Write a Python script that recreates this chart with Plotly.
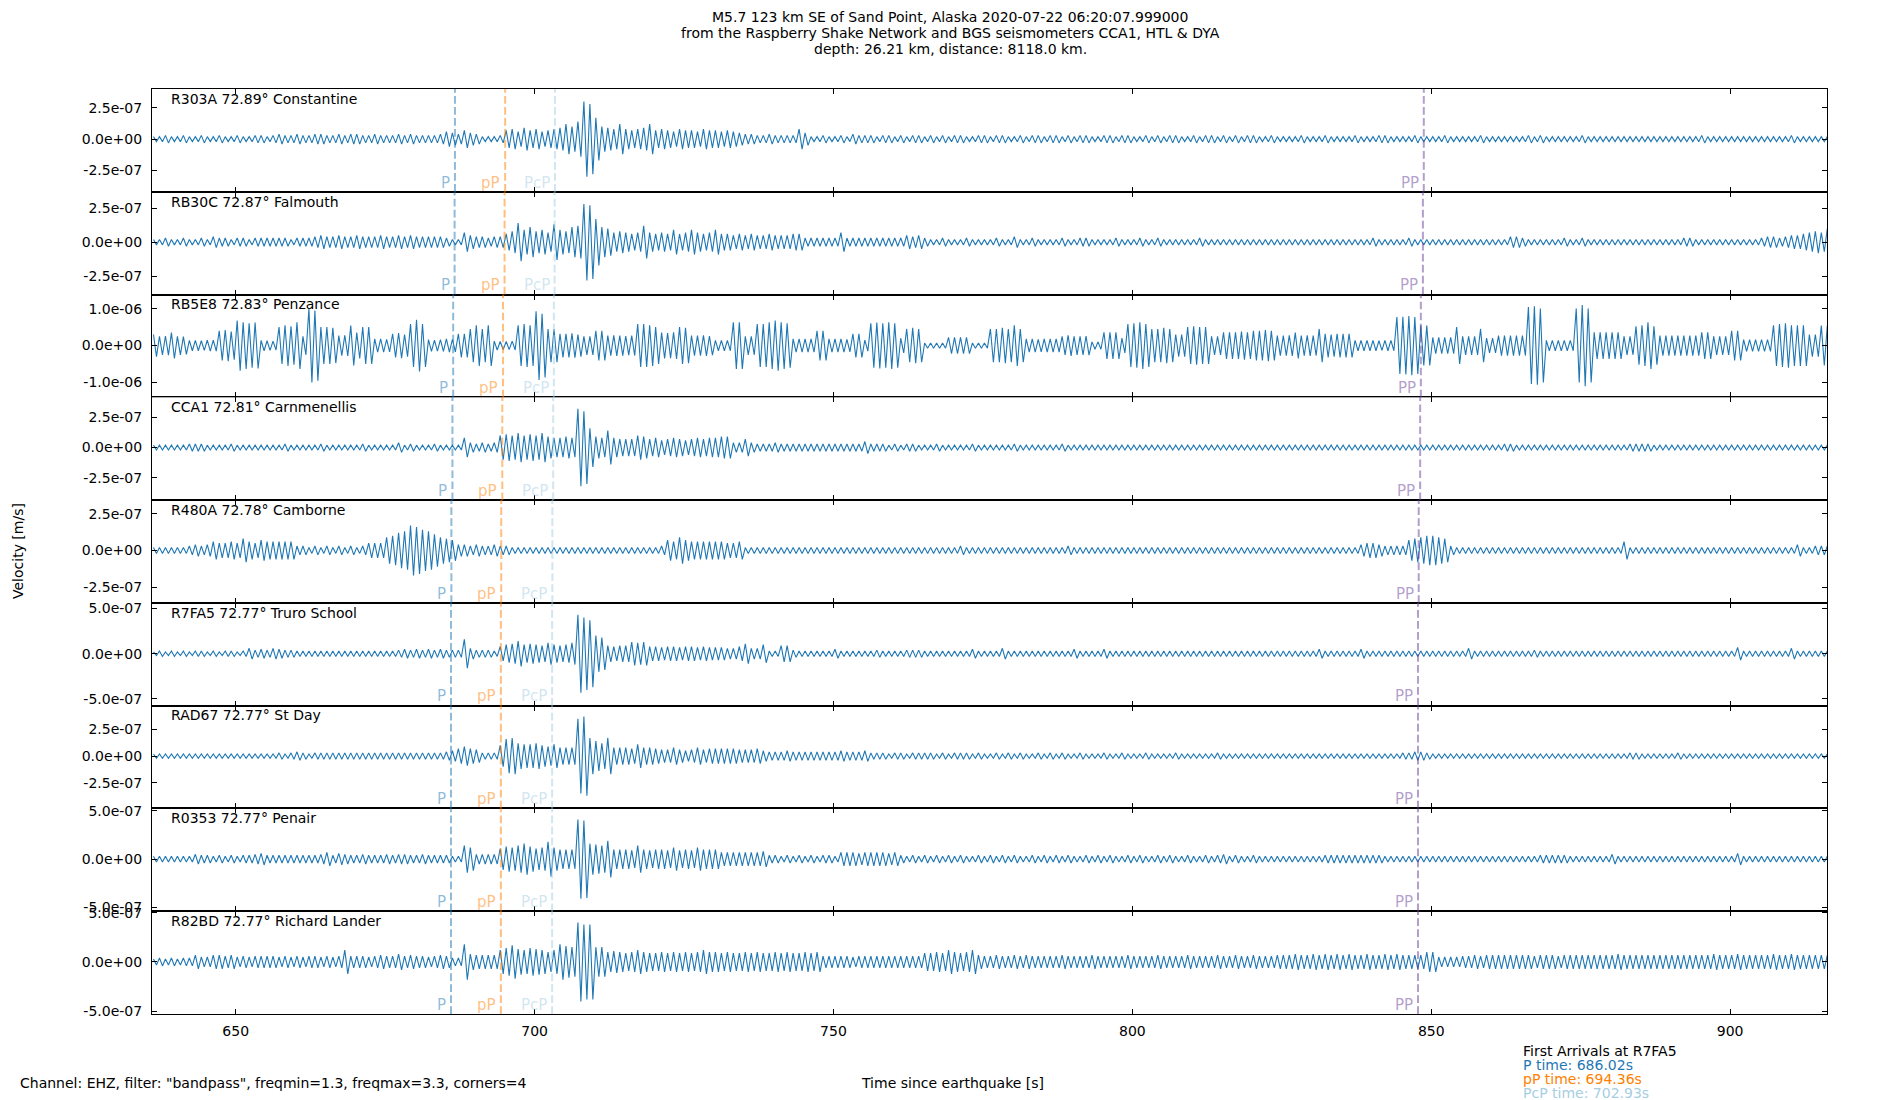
import plotly.graph_objects as go
from plotly.subplots import make_subplots

# ---------------- data ----------------
T0 = 636  # first second of the amplitude lists (s since earthquake)
AMP_UNIT = 1e-8  # amplitudes below are peak values per second, in 1e-8 m/s

stations = ["R303A", "RB30C", "RB5E8", "CCA1", "R480A", "R7FA5", "RAD67", "R0353", "R82BD"]
distances = ["72.89", "72.87", "72.83", "72.81", "72.78", "72.77", "72.77", "72.77", "72.77"]
places = ["Constantine", "Falmouth", "Penzance", "Carnmenellis", "Camborne",
          "Truro School", "St Day", "Penair", "Richard Lander"]

amp_R303A = [2,2,3,2,2,3,2,2,3,2, 2,3,2,2,3,2,2,3,3,2, 3,4,3,3,4,3,3,4,4,3, 3,4,3,4,4,3,3,4,3,3,
             3,4,3,4,3,3,3,3,4,6, 5,4,7,5,4,2,2,2,3,7, 8,6,9,7,8,6,7,8,9,12, 10,14,30,28,17,10,9,8,12,8,
             7,8,9,12,7,8,7,6,8,7, 7,6,8,7,7,6,7,6,5,4, 4,3,3,4,3,3,3,3,8,5, 2,2,3,2,2,3,2,4,3,3,
             3,2,3,3,2,3,2,3,3,2, 3,2,3,2,3,3,2,2,3,3, 2,3,3,2,2,3,2,3,3,2, 3,3,2,3,2,3,3,2,2,3,
             3,2,3,3,2,2,3,2,3,2, 3,3,2,2,3,2,3,3,2,3, 2,3,2,3,3,2,2,3,2,2, 2,2,3,2,2,2,3,2,2,2,
             2,3,2,2,2,3,3,2,2,2, 2,3,2,2,2,2,3,2,2,2, 2,2,3,2,2,2,2,2,2,2, 3,2,3,2,2,2,2,2,2,3,
             2,2,2,2,2,2,2,2,2,2, 2,2,2,2,2,2,2,2,2,3, 2,2,2,2,2,2,2,2,2,2, 2,2,2,2,3,2,2,2,2,2, 2]
amp_RB30C = [2,2,3,2,2,3,2,2,3,2, 4,3,3,2,3,3,2,3,3,3, 3,3,3,2,3,3,3,4,5,4, 4,5,4,4,5,4,4,4,5,4,
             4,5,4,5,4,4,4,4,4,3, 2,2,7,5,4,4,3,4,4,6, 8,14,9,11,8,9,7,13,9,8, 11,12,28,27,17,11,10,7,8,7,
             6,7,12,7,6,7,6,9,6,7, 9,7,6,7,9,6,6,5,6,5, 6,5,5,6,5,5,5,6,6,3, 3,3,3,3,3,7,3,3,3,3,
             3,3,3,3,3,3,5,4,5,3, 2,2,3,2,2,2,3,2,2,2, 2,3,2,2,4,2,2,3,2,2, 2,2,3,2,2,3,3,2,2,2,
             2,3,2,2,2,3,2,2,3,2, 2,2,2,2,2,3,2,2,2,2, 2,2,2,2,2,2,2,2,2,2, 2,2,2,2,2,2,2,2,2,2,
             2,2,2,2,3,2,2,2,2,2, 3,2,2,2,2,2,2,2,2,2, 2,2,2,2,2,2,2,4,4,3, 2,2,2,2,2,2,3,2,2,3,
             2,2,2,2,2,2,2,2,2,2, 2,2,2,2,2,2,3,3,2,2, 2,2,2,2,2,2,2,2,2,3, 4,4,3,4,5,5,6,7,8,7, 10]
amp_RB5E8 = [30,25,26,35,25,24,14,14,13,15, 15,40,42,38,68,63,60,62,14,13, 12,50,55,52,63,25,100,95,50,50,
             48,27,28,54,35,50,50,18,18,17, 32,34,30,58,70,58,16,15,16,18, 17,32,32,45,55,45,55,12,11,11,
             12,55,58,55,93,86,45,45,32,32, 33,30,25,25,40,40,27,28,27,26, 27,58,58,55,50,35,34,36,50,48,
             27,27,28,26,14,14,14,63,63,25, 25,58,58,63,68,63,60,18,18,18, 18,40,40,18,18,18,17,32,32,15,
             60,62,60,63,60,20,45,48,45,7, 7,7,7,22,22,22,22,7,7,7, 45,45,48,45,55,45,18,18,17,18,
             18,18,25,28,25,25,26,10,10,36, 36,36,20,58,60,63,58,45,45,48, 45,30,30,50,52,50,50,25,25,36,
             36,36,38,36,40,40,42,40,27,27, 28,35,27,28,27,45,32,30,32,32, 32,14,14,14,14,13,14,14,77,78,
             80,77,54,54,22,22,22,22,50,25, 25,25,45,20,20,27,27,27,27,27, 104,106,100,14,14,14,14,14,100,110,
             100,36,36,36,36,36,25,25,52,55, 63,52,27,27,27,27,27,27,27,36, 36,25,25,25,40,40,16,16,16,16,
             16,55,58,60,55,55,55,30,30,54, 54]
amp_CCA1 = [2,2,2,2,2,2,3,3,3,2, 2,2,2,3,2,2,2,2,2,2, 2,2,3,2,2,2,2,2,3,2, 2,2,2,2,2,3,2,2,2,2,
            2,4,2,3,2,2,2,3,2,2, 2,2,8,4,3,4,3,4,10,11, 10,12,10,11,10,12,9,8,8,9, 8,32,30,16,9,8,14,8,7,7,
            7,10,9,7,8,6,7,8,7,6, 7,8,7,8,8,9,9,4,4,7, 4,3,3,3,4,3,3,3,3,3, 3,3,3,3,3,3,3,3,3,5,
            3,3,3,2,3,2,3,3,2,2, 2,3,2,2,2,2,2,3,2,2, 2,2,2,2,3,2,2,2,2,2, 2,2,3,2,2,2,2,2,2,2,
            2,2,2,2,2,2,2,2,2,2, 2,2,2,2,2,2,2,2,2,2, 2,2,2,2,2,2,2,2,2,2, 2,2,2,2,2,2,2,2,2,2,
            2,2,2,2,2,2,2,2,2,2, 2,2,2,2,2,2,2,2,2,2, 2,2,2,2,2,2,3,3,2,2, 2,2,2,2,2,2,2,2,2,2,
            2,2,2,2,2,2,2,3,3,3, 3,2,2,2,2,2,2,2,2,2, 2,2,2,2,2,2,2,2,2,2, 2,2,2,2,2,2,2,2,2,2, 2]
amp_R480A = [2,2,2,2,2,2,3,4,3,4, 6,5,5,6,5,8,6,5,7,6, 6,6,6,6,3,3,2,3,2,3, 2,3,2,3,2,3,5,5,5,9,
             10,12,13,17,16,14,13,11,9,8, 7,4,4,3,4,3,3,4,3,3, 2,2,2,2,2,2,2,2,2,2, 2,2,2,2,2,2,2,2,2,2,
             2,2,2,2,2,3,7,6,9,7, 6,6,6,6,6,6,5,5,6,2, 2,2,2,2,2,2,2,2,2,2, 2,2,2,2,2,2,2,2,2,2,
             2,2,2,2,2,2,2,2,2,2, 2,2,2,2,2,3,2,2,2,2, 2,2,2,2,2,2,2,2,2,2, 2,2,2,3,2,2,2,2,2,2,
             2,2,2,2,2,2,2,2,2,2, 2,2,2,2,2,2,2,2,2,2, 2,2,2,2,2,2,2,2,2,2, 2,2,2,2,2,2,2,2,2,2,
             2,2,4,5,5,4,3,3,3,3, 7,8,9,10,10,9,8,3,2,2, 2,2,2,2,2,2,2,2,2,2, 2,2,2,2,2,2,2,2,2,2,
             2,2,2,2,2,2,6,2,2,2, 2,2,2,2,2,2,2,2,2,2, 2,2,2,2,2,2,2,2,2,2, 2,2,2,2,2,4,2,2,3,3, 3]
amp_R7FA5 = [2,3,2,3,2,3,2,3,3,2, 3,2,3,3,2,3,6,4,5,4, 6,5,4,4,3,3,3,3,3,3, 3,3,3,3,3,3,3,3,3,3,
             3,4,5,4,5,4,5,4,5,4, 4,4,16,6,4,4,4,3,8,10, 11,14,10,11,10,9,12,10,9,10, 12,43,40,37,20,18,9,8,9,9,
             13,12,13,8,8,7,8,8,7,8, 8,7,8,7,7,7,6,6,8,11, 6,6,10,3,3,9,9,4,3,3, 3,3,3,3,5,3,3,3,3,3,
             3,4,3,3,3,3,4,4,4,3, 3,3,3,3,3,3,3,5,3,3, 3,3,6,3,3,3,3,3,3,3, 3,3,3,3,5,3,3,3,3,5,
             3,3,3,3,3,3,3,3,3,3, 3,3,3,3,3,3,3,3,3,3, 3,3,3,3,3,3,3,3,3,3, 3,3,3,3,3,5,3,3,3,3,
             3,3,5,3,3,3,3,3,3,3, 3,3,3,3,3,3,3,3,3,3, 6,3,3,3,3,3,3,3,3,3, 3,4,3,3,3,3,3,3,3,3,
             3,3,3,3,3,3,3,3,3,3, 3,3,3,3,3,3,3,3,3,3, 3,3,3,3,3,7,3,3,3,3, 3,3,3,3,6,3,3,3,3,3, 3]
amp_RAD67 = [2,2,2,2,2,2,2,2,2,2, 2,2,2,2,2,2,2,2,2,2, 2,3,2,3,4,3,2,3,3,3, 3,3,3,3,3,3,3,3,3,3,
             3,3,3,3,3,3,3,3,3,4, 5,7,9,7,6,3,3,3,10,16, 17,12,11,11,12,10,9,11,8,8, 8,35,37,17,14,12,17,8,8,8,
             7,11,8,8,7,6,6,8,6,5, 6,8,6,7,7,7,7,7,6,6, 6,7,5,4,4,4,5,4,4,4, 4,4,4,4,4,5,4,4,4,5,
             3,3,3,2,3,3,2,3,3,3, 3,2,3,2,3,3,3,2,3,2, 2,3,2,3,2,3,2,2,3,2, 3,2,3,2,2,3,2,2,2,3,
             2,2,3,2,2,2,3,2,2,2, 2,3,2,2,2,2,2,2,3,2, 2,2,2,2,2,2,2,2,2,2, 2,2,2,2,2,2,2,2,2,2,
             2,2,2,2,2,2,2,2,2,3, 3,4,4,3,2,2,2,2,2,2, 2,2,2,2,2,2,2,2,2,2, 2,2,2,2,2,2,2,2,2,2,
             2,2,2,2,2,2,2,3,3,2, 2,2,2,2,2,3,2,2,2,2, 2,2,2,2,2,2,2,2,2,2, 2,2,2,2,2,2,2,2,2,2, 2]
amp_R0353 = [3,3,3,3,3,3,3,5,4,4, 3,4,3,4,3,4,4,5,6,4, 4,4,4,4,4,4,4,4,5,7, 4,6,5,4,4,5,4,4,4,5,
             4,5,5,4,4,5,4,4,4,4, 3,3,14,12,5,5,5,5,11,13, 12,14,16,13,11,12,18,12,10,10, 10,41,40,16,15,14,19,10,10,10,
             9,14,10,9,10,10,9,12,9,10, 9,12,10,10,10,7,7,7,7,7, 7,7,8,4,4,3,4,3,4,3, 4,3,4,4,3,7,7,7,6,7,
             7,7,7,6,7,4,3,4,3,4, 3,4,3,4,3,4,3,3,4,3, 4,3,4,3,4,3,3,4,3,4, 3,4,3,4,3,3,4,3,4,3,
             4,3,3,4,3,4,3,3,4,3, 4,3,3,4,3,3,4,3,4,5, 3,4,3,3,4,3,3,3,3,3, 3,3,3,3,3,3,4,4,4,4,
             4,4,4,4,4,4,3,3,3,3, 3,3,3,3,3,3,3,3,3,3, 3,3,3,3,3,3,3,3,3,3, 3,3,4,4,4,4,4,3,3,3,
             3,3,3,3,5,3,3,3,3,3, 3,3,3,3,3,3,3,3,3,3, 3,3,3,3,3,6,3,3,3,3, 3,3,3,3,3,3,3,3,3,3, 3]
amp_R82BD = [3,4,3,4,3,4,4,7,5,5, 7,7,6,7,5,6,5,6,6,6, 6,5,6,5,6,5,6,6,5,6, 5,6,12,6,6,6,5,6,7,6,
             6,8,6,7,6,6,5,6,7,6, 4,4,18,8,7,7,7,7,12,14, 17,13,12,14,13,12,10,12,18,16, 15,40,38,38,15,15,10,11,10,9,
             10,12,10,9,9,10,9,10,9,10, 9,10,12,10,10,9,10,9,9,10, 9,10,9,9,10,9,10,9,9,10, 9,10,6,6,6,6,6,5,6,6,
             6,6,6,6,6,6,6,6,6,9, 9,10,9,12,10,9,10,12,7,6, 6,7,6,6,7,6,7,6,6,6, 6,6,7,6,6,6,6,7,6,6,
             6,6,6,7,6,6,6,6,7,6, 6,6,6,7,6,6,6,6,7,6, 6,7,6,6,7,6,6,6,7,7, 7,8,7,7,8,7,8,7,8,7,
             8,7,7,8,7,7,8,7,8,7, 7,7,7,10,10,5,5,5,5,6, 6,7,6,7,7,7,7,7,7,7, 7,6,7,7,7,6,7,7,7,7,
             7,7,7,7,7,8,7,7,7,7, 7,7,7,7,7,7,7,7,7,7, 7,8,7,7,7,8,7,7,7,7, 7,8,7,7,8,7,7,7,7,7, 7]
amplitudes = [amp_R303A, amp_RB30C, amp_RB5E8, amp_CCA1, amp_R480A,
              amp_R7FA5, amp_RAD67, amp_R0353, amp_R82BD]

# arrival times per station (s)
p_times = [686.68, 686.62, 686.38, 686.26, 686.08, 686.02, 686.02, 686.02, 686.02]
pp_depth_times = [695.08, 694.98, 694.72, 694.60, 694.42, 694.36, 694.36, 694.36, 694.36]
pcp_times = [703.41, 703.35, 703.23, 703.11, 702.97, 702.93, 702.93, 702.93, 702.93]
PP_times = [848.75, 848.60, 848.26, 848.14, 847.90, 847.78, 847.78, 847.78, 847.78]

# y-axis ranges and ticks per station
y_ranges = [(-4.2e-7, 4.0e-7), (-3.84e-7, 3.69e-7), (-1.40e-6, 1.38e-6), (-4.34e-7, 4.15e-7),
            (-3.56e-7, 3.42e-7), (-5.74e-7, 5.62e-7), (-4.9e-7, 4.72e-7), (-5.38e-7, 5.24e-7),
            (-5.27e-7, 5.14e-7)]
y_tick_steps = [2.5e-7, 2.5e-7, 1.0e-6, 2.5e-7, 2.5e-7, 5.0e-7, 2.5e-7, 5.0e-7, 5.0e-7]
x_range = (636.0, 916.2)
x_ticks = [650, 700, 750, 800, 850, 900]

# ---------------- style ----------------
FONT = "DejaVu Sans"
TRACE_COLOR = "#1f77b4"
phase_colors = {"P": "rgba(31,120,180,0.5)", "pP": "rgba(255,127,0,0.5)",
                "PcP": "rgba(166,206,227,0.5)", "PP": "rgba(106,61,154,0.5)"}

W, H = 1900, 1100
ML, MR, MT, MB = 152, 73, 89, 86
PW, PH = W - ML - MR, H - MT - MB


def px_x(px):
    return (px - ML) / PW


def px_y(py):
    return (H - MB - py) / PH


def sci(v):
    return "%.1e" % v


fig = make_subplots(rows=9, cols=1, shared_xaxes=True, vertical_spacing=0)

annotations = []
shapes = []
for k in range(9):
    row = k + 1
    amps = amplitudes[k]
    xs, ys = [], []
    for i, a in enumerate(amps):
        t = T0 + i
        xs += [t + 0.25, t + 0.75]
        ys += [a * AMP_UNIT, -a * AMP_UNIT]
    fig.add_trace(go.Scatter(x=xs, y=ys, mode="lines",
                             line=dict(color=TRACE_COLOR, width=1.1),
                             showlegend=False, hoverinfo="skip"), row=row, col=1)

    ax = "" if row == 1 else str(row)
    step = y_tick_steps[k]
    yt = [-step, 0.0, step]
    fig.update_yaxes(range=list(y_ranges[k]), tickvals=yt, ticktext=[sci(v) for v in yt],
                     row=row, col=1)

    annotations.append(dict(xref=f"x{ax} domain", yref=f"y{ax} domain", x=0.0101, y=0.905,
                            xanchor="left", yanchor="middle", showarrow=False,
                            text=f"{stations[k]} {distances[k]}° {places[k]}",
                            font=dict(family=FONT, size=14, color="black")))

    for name, times in (("P", p_times), ("pP", pp_depth_times), ("PcP", pcp_times), ("PP", PP_times)):
        t = times[k]
        col = phase_colors[name]
        shapes.append(dict(type="line", xref=f"x{ax}", yref=f"y{ax} domain",
                           x0=t, x1=t, y0=0, y1=1,
                           line=dict(color=col, width=2, dash="7.7px,3.3px")))
        annotations.append(dict(xref=f"x{ax}", yref=f"y{ax} domain", x=t, y=0.09,
                                xanchor="right", yanchor="middle", xshift=-3, showarrow=False,
                                text=name, font=dict(family=FONT, size=15, color=col)))

fig.update_xaxes(range=list(x_range), tickvals=x_ticks, showgrid=False, zeroline=False,
                 showline=True, linecolor="black", linewidth=1.1, mirror="ticks",
                 ticks="inside", ticklen=5, tickwidth=1, tickcolor="black",
                 tickfont=dict(family=FONT, size=14, color="black"), ticklabelstandoff=4)
fig.update_yaxes(showgrid=False, zeroline=False, showline=True, linecolor="black",
                 linewidth=1.1, mirror="ticks", ticks="inside", ticklen=5, tickwidth=1,
                 tickcolor="black", tickfont=dict(family=FONT, size=14, color="black"),
                 ticklabelstandoff=6)

title_lines = ["M5.7 123 km SE of Sand Point, Alaska 2020-07-22 06:20:07.999000",
               "from the Raspberry Shake Network and BGS seismometers CCA1, HTL & DYA",
               "depth: 26.21 km, distance: 8118.0 km."]
for line, py in zip(title_lines, (17, 33, 48.6)):
    annotations.append(dict(xref="paper", yref="paper", x=px_x(950), y=px_y(py),
                            xanchor="center", yanchor="middle", showarrow=False, text=line,
                            font=dict(family=FONT, size=14, color="black")))

annotations.append(dict(xref="paper", yref="paper", x=px_x(18), y=px_y(551),
                        xanchor="center", yanchor="middle", showarrow=False, textangle=-90,
                        text="Velocity [m/s]", font=dict(family=FONT, size=14, color="black")))
annotations.append(dict(xref="paper", yref="paper", x=px_x(18), y=px_y(1083),
                        xanchor="left", yanchor="middle", showarrow=False,
                        text='Channel: EHZ, filter: "bandpass", freqmin=1.3, freqmax=3.3, corners=4',
                        font=dict(family=FONT, size=14, color="black")))
annotations.append(dict(xref="paper", yref="paper", x=px_x(952), y=px_y(1083),
                        xanchor="center", yanchor="middle", showarrow=False,
                        text="Time since earthquake [s]",
                        font=dict(family=FONT, size=14, color="black")))

legend_lines = [("First Arrivals at R7FA5", "black"),
                ("P time: %.2fs" % p_times[5], "#1f78b4"),
                ("pP time: %.2fs" % pp_depth_times[5], "#ff7f00"),
                ("PcP time: %.2fs" % pcp_times[5], "#a6cee3")]
for (txt, c), py in zip(legend_lines, (1051, 1065, 1078.5, 1092.5)):
    annotations.append(dict(xref="paper", yref="paper", x=px_x(1521), y=px_y(py),
                            xanchor="left", yanchor="middle", showarrow=False, text=txt,
                            font=dict(family=FONT, size=14, color=c)))

fig.update_layout(width=W, height=H, margin=dict(l=ML, r=MR, t=MT, b=MB),
                  paper_bgcolor="white", plot_bgcolor="white",
                  annotations=annotations, shapes=shapes, showlegend=False,
                  font=dict(family=FONT, size=14, color="black"))

# remove the browser's default 8px page margin so the figure sits at the window's corner
fig.write_html("out.html", config={"displayModeBar": False},
               post_script="document.body.style.margin='0px';document.body.style.overflow='hidden';")
